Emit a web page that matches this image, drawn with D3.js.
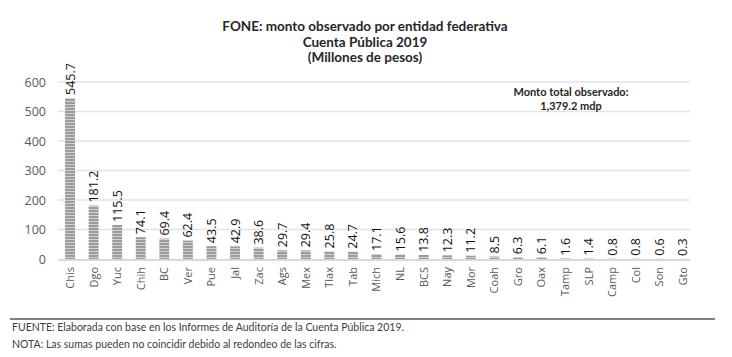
<!DOCTYPE html>
<html><head><meta charset="utf-8">
<script src="https://cdn.jsdelivr.net/npm/d3@7"></script>
<style>body{margin:0;background:#fff}svg{display:block}</style>
</head><body>
<script>
const categories = ["Chis","Dgo","Yuc","Chih","BC","Ver","Pue","Jal","Zac","Ags","Mex","Tlax","Tab","Mich","NL","BCS","Nay","Mor","Coah","Gro","Oax","Tamp","SLP","Camp","Col","Son","Gto"];
const values = [545.7,181.2,115.5,74.1,69.4,62.4,43.5,42.9,38.6,29.7,29.4,25.8,24.7,17.1,15.6,13.8,12.3,11.2,8.5,6.3,6.1,1.6,1.4,0.8,0.8,0.6,0.3];
const yTicks = [0,100,200,300,400,500,600];
const titleLines = ["FONE: monto observado por entidad federativa","Cuenta Pública 2019","(Millones de pesos)"];
const noteLines = ["Monto total observado:","1,379.2 mdp"];
const footLines = ["FUENTE: Elaborada con base en los Informes de Auditoría de la Cuenta Pública 2019.","NOTA: Las sumas pueden no coincidir debido al redondeo de las cifras."];

const W=732,H=357;
const svg=d3.select("body").append("svg").attr("width",W).attr("height",H);
const defs=svg.append("defs");
const pat=defs.append("pattern").attr("id","stripe").attr("patternUnits","userSpaceOnUse").attr("width",4).attr("height",3);
pat.append("rect").attr("width",4).attr("height",3).attr("fill","#d4d0d0");
pat.append("rect").attr("width",4).attr("height",2).attr("fill","#9e9a9a");

const x=d3.scaleBand().domain(categories).range([58,695]).paddingInner(0.58).paddingOuter(0.3);
const y=d3.scaleLinear().domain([0,600]).range([259,82]);
const font="Lato, 'Open Sans', sans-serif";

// grid
svg.append("g").selectAll("line").data(yTicks.filter(d=>d>0)).join("line")
 .attr("x1",58).attr("x2",690).attr("y1",d=>y(d)).attr("y2",d=>y(d))
 .attr("stroke","#e8e2de").attr("stroke-width",1.5);

// y axis
const ya=svg.append("g").attr("transform","translate(58,0)").call(d3.axisLeft(y).tickValues(yTicks).tickSize(0).tickPadding(12));
ya.select(".domain").remove();
ya.selectAll("text").attr("font-family","'Open Sans', sans-serif").attr("font-size",12.5).attr("fill","#595959");

// bars
svg.append("g").selectAll("rect").data(categories).join("rect")
 .attr("x",d=>x(d)).attr("width",x.bandwidth())
 .attr("y",(d,i)=>y(values[i])).attr("height",(d,i)=>y(0)-y(values[i]))
 .attr("fill","url(#stripe)");

// baseline
svg.append("line").attr("x1",58).attr("x2",690).attr("y1",y(0)+1).attr("y2",y(0)+1).attr("stroke","#d9d9d9").attr("stroke-width",2);

// value labels
svg.append("g").selectAll("text").data(categories).join("text")
 .attr("transform",(d,i)=>`translate(${x(d)+x.bandwidth()/2},${y(values[i])-3}) rotate(-90)`)
 .attr("dy","0.36em")
 .attr("font-family","'Open Sans', sans-serif").attr("font-size",12.5).attr("fill","#111")
 .text((d,i)=>values[i].toFixed(1));

// category labels
const xa=svg.append("g").attr("transform",`translate(0,${y(0)})`).call(d3.axisBottom(x).tickSize(0));
xa.select(".domain").remove();
xa.selectAll("text").attr("transform","translate(0,8) rotate(-90)").attr("text-anchor","end").attr("dy","0.36em").attr("x",0).attr("y",0)
 .attr("font-family","'Open Sans', sans-serif").attr("font-size",11).attr("fill","#595959");

// title
svg.append("g").selectAll("text").data(titleLines).join("text")
 .attr("x",365).attr("y",(d,i)=>31+i*15.5).attr("text-anchor","middle")
 .attr("font-family",font).attr("font-weight","bold").attr("font-size",13.5).attr("fill","#262626").text(d=>d);

// note
svg.append("g").selectAll("text").data(noteLines).join("text")
 .attr("x",571).attr("y",(d,i)=>96+i*14).attr("text-anchor","middle")
 .attr("font-family",font).attr("font-weight","bold").attr("font-size",11).attr("fill","#262626").text(d=>d);

// footer
svg.append("line").attr("x1",10).attr("x2",715).attr("y1",319).attr("y2",319).attr("stroke","#808080").attr("stroke-width",2);
svg.append("g").selectAll("text").data(footLines).join("text")
 .attr("x",12).attr("y",(d,i)=>331+i*16.5)
 .attr("font-family",font).attr("font-size",10.5).attr("fill","#404040").text(d=>d);
</script>
</body></html>
